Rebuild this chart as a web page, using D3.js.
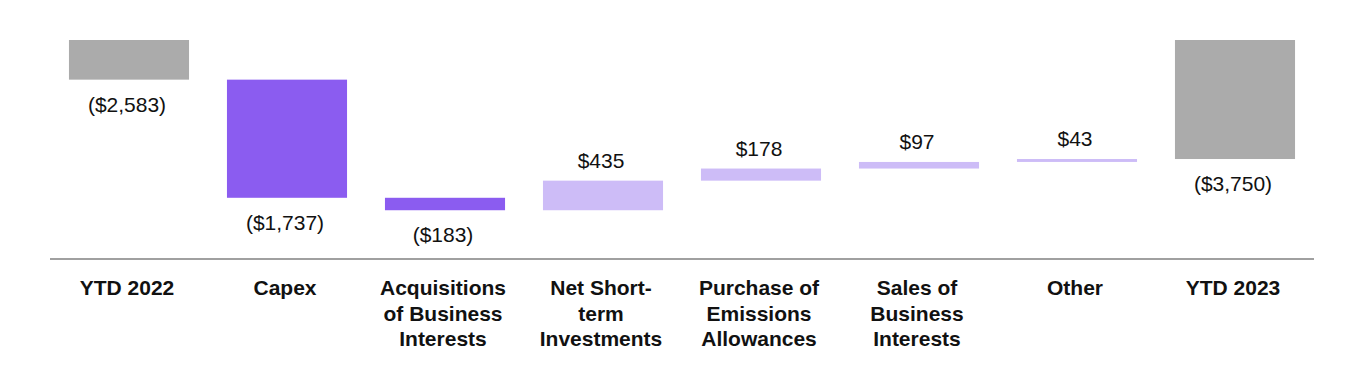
<!DOCTYPE html>
<html>
<head>
<meta charset="utf-8">
<script src="https://cdn.jsdelivr.net/npm/d3@7"></script>
<style>
html,body{margin:0;padding:0;background:#fff;}
svg{display:block;font-family:"Liberation Sans",Arial,sans-serif;}
</style>
</head>
<body>
<svg id="chart" width="1364" height="370"></svg>
<script>
const categories = [
  ["YTD 2022"],
  ["Capex"],
  ["Acquisitions", "of Business", "Interests"],
  ["Net Short-", "term", "Investments"],
  ["Purchase of", "Emissions", "Allowances"],
  ["Sales of", "Business", "Interests"],
  ["Other"],
  ["YTD 2023"]
];
const values = [-2583, -1737, -183, 435, 178, 97, 43, -3750];
const kinds = ["total", "step", "step", "step", "step", "step", "step", "total"];
const valueLabels = ["($2,583)", "($1,737)", "($183)", "$435", "$178", "$97", "$43", "($3,750)"];

const colors = { total: "#ababab", neg: "#8b5cf0", pos: "#cdbcf7" };

// build waterfall extents
let running = 0;
const bars = values.map((v, i) => {
  let start, end;
  if (kinds[i] === "total") { start = 0; end = v; running = v; }
  else { start = running; end = running + v; running = end; }
  return { i, v, start, end, kind: kinds[i], label: valueLabels[i], cat: categories[i] };
});

const svg = d3.select("#chart");
const x = d3.scaleBand().domain(d3.range(categories.length)).range([50, 1314])
  .paddingInner(0.24).paddingOuter(0.12);
const y = d3.scaleLinear().domain([-2000, -5220]).range([40, 259]).clamp(true);
const tx = -2;

svg.append("g").selectAll("rect").data(bars).join("rect")
  .attr("x", d => x(d.i))
  .attr("width", x.bandwidth())
  .attr("y", d => Math.min(y(d.start), y(d.end)))
  .attr("height", d => Math.abs(y(d.start) - y(d.end)))
  .attr("fill", d => d.kind === "total" ? colors.total : (d.v < 0 ? colors.neg : colors.pos));

svg.append("g").selectAll("text").data(bars).join("text")
  .attr("x", d => x(d.i) + x.bandwidth() / 2 + tx)
  .attr("y", d => d.v < 0 ? Math.max(y(d.start), y(d.end)) + 32 : Math.min(y(d.start), y(d.end)) - 13)
  .attr("text-anchor", "middle")
  .attr("font-size", 21)
  .attr("fill", "#111")
  .text(d => d.label);

// axis line
svg.append("line")
  .attr("x1", x.range()[0]).attr("x2", x.range()[1])
  .attr("y1", y.range()[1]).attr("y2", y.range()[1])
  .attr("stroke", "#a0a0a0").attr("stroke-width", 2);

// category labels
const cl = svg.append("g").selectAll("text").data(bars).join("text")
  .attr("x", d => x(d.i) + x.bandwidth() / 2 + tx)
  .attr("y", 295)
  .attr("text-anchor", "middle")
  .attr("font-size", 21)
  .attr("font-weight", "bold")
  .attr("fill", "#111");
cl.selectAll("tspan").data(d => d.cat.map(t => ({ t, cx: x(d.i) + x.bandwidth() / 2 + tx }))).join("tspan")
  .attr("x", d => d.cx)
  .attr("dy", (d, j) => j === 0 ? 0 : 25.5)
  .text(d => d.t);
</script>
</body>
</html>
